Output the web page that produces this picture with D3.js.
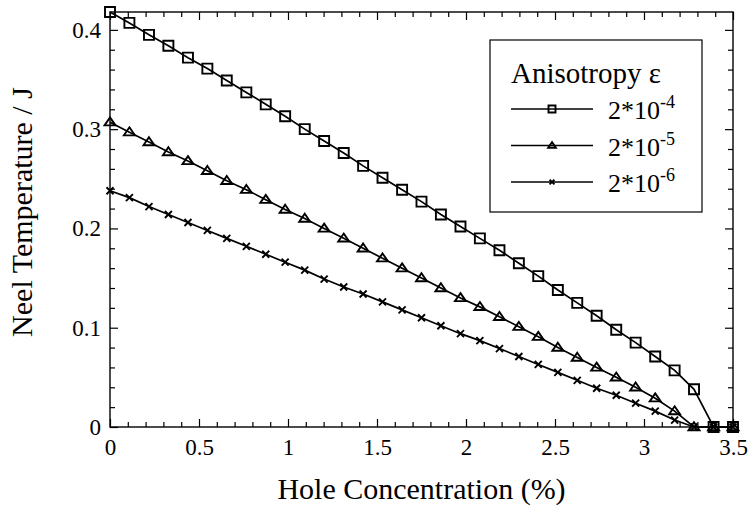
<!DOCTYPE html>
<html>
<head>
<meta charset="utf-8">
<script src="https://cdnjs.cloudflare.com/ajax/libs/d3/7.8.5/d3.min.js"></script>
<style>
body { margin: 0; background: #fff; }
svg { display: block; font-family: "Liberation Serif", "Times New Roman", serif; }
.axis text { font-family: "Liberation Serif", "Times New Roman", serif; font-size: 23px; fill: #000; }
.axis line { stroke: #000; stroke-width: 1.2; }
.frame { fill: none; stroke: #000; stroke-width: 1.4; }
.series { fill: none; stroke: #000; stroke-width: 1.7; }
.mark { fill: none; stroke: #000; stroke-width: 1.9; }
</style>
</head>
<body>
<svg id="chart" width="752" height="512"></svg>
<script>

// hole concentration (%) for every computed point
var holeConc = [0, 0.109, 0.219, 0.328, 0.438, 0.547, 0.656, 0.766, 0.875, 0.984,
    1.094, 1.203, 1.313, 1.422, 1.531, 1.641, 1.75, 1.859, 1.969, 2.078,
    2.188, 2.297, 2.406, 2.516, 2.625, 2.734, 2.844, 2.953, 3.063, 3.172,
    3.281, 3.391, 3.5];

// Neel temperature / J, one list per anisotropy value
var tnEps4 = [0.418, 0.407, 0.395, 0.384, 0.372, 0.361, 0.349, 0.337, 0.325, 0.313,
    0.300, 0.288, 0.276, 0.263, 0.251, 0.239, 0.227, 0.214, 0.202, 0.190,
    0.178, 0.165, 0.152, 0.138, 0.125, 0.112, 0.098, 0.085, 0.071, 0.057,
    0.038, 0, 0];
var tnEps5 = [0.307, 0.297, 0.287, 0.277, 0.268, 0.258, 0.248, 0.239, 0.229, 0.219,
    0.210, 0.200, 0.190, 0.180, 0.170, 0.160, 0.150, 0.140, 0.130, 0.121,
    0.111, 0.101, 0.091, 0.080, 0.070, 0.060, 0.050, 0.040, 0.029, 0.016,
    0, 0, 0];
var tnEps6 = [0.238, 0.231, 0.222, 0.214, 0.206, 0.198, 0.190, 0.182, 0.174, 0.166,
    0.158, 0.149, 0.141, 0.134, 0.126, 0.118, 0.110, 0.102, 0.094, 0.087,
    0.079, 0.071, 0.063, 0.055, 0.047, 0.039, 0.032, 0.024, 0.016, 0.007,
    0, 0, 0];

var seriesExp = ["-4", "-5", "-6"];
var seriesMark = ["square", "triangle", "cross"];

var xTicks = [0, 0.5, 1, 1.5, 2, 2.5, 3, 3.5];
var xTickLabels = ["0", "0.5", "1", "1.5", "2", "2.5", "3", "3.5"];
var yTicks = [0, 0.1, 0.2, 0.3, 0.4];
var yTickLabels = ["0", "0.1", "0.2", "0.3", "0.4"];

var xTitle = "Hole Concentration (%)";
var yTitle = "Neel Temperature / J";
var legendTitle = "Anisotropy \u03b5";

var plotL = 110, plotR = 733, plotT = 12, plotB = 427;

var svg = d3.select("#chart");

var x = d3.scaleLinear().domain([0, 3.5]).range([plotL, plotR]);
var y = d3.scaleLinear().domain([0, 0.418]).range([plotB, plotT]);

// minor ticks (no labels)
var xMinor = x.ticks(35).filter(function(v) { return Math.abs(v * 2 - Math.round(v * 2)) > 1e-6; });
var yMinor = y.ticks(20).filter(function(v) { return Math.abs(v * 10 - Math.round(v * 10)) > 1e-6; });

function addAxis(axis, tx, ty) {
    var g = svg.append("g").attr("class", "axis")
        .attr("transform", "translate(" + tx + "," + ty + ")")
        .call(axis);
    g.select(".domain").remove();
    return g;
}

addAxis(d3.axisBottom(x).tickValues(xMinor).tickSize(-5).tickFormat(""), 0, plotB);
addAxis(d3.axisTop(x).tickValues(xMinor).tickSize(-5).tickFormat(""), 0, plotT);
addAxis(d3.axisLeft(y).tickValues(yMinor).tickSize(-5).tickFormat(""), plotL, 0);
addAxis(d3.axisRight(y).tickValues(yMinor).tickSize(-5).tickFormat(""), plotR, 0);

addAxis(d3.axisBottom(x).tickValues(xTicks).tickSize(-8).tickPadding(12)
    .tickFormat(function(d, i) { return xTickLabels[i]; }), 0, plotB);
addAxis(d3.axisTop(x).tickValues(xTicks).tickSize(-8).tickFormat(""), 0, plotT);
addAxis(d3.axisLeft(y).tickValues(yTicks).tickSize(-8).tickPadding(9)
    .tickFormat(function(d, i) { return yTickLabels[i]; }), plotL, 0);
addAxis(d3.axisRight(y).tickValues(yTicks).tickSize(-8).tickFormat(""), plotR, 0);

svg.append("rect").attr("class", "frame")
    .attr("x", plotL).attr("y", plotT)
    .attr("width", plotR - plotL).attr("height", plotB - plotT);

// axis titles
svg.append("text")
    .attr("x", (plotL + plotR) / 2).attr("y", 499)
    .attr("text-anchor", "middle")
    .style("font-size", "30px")
    .text(xTitle);

svg.append("text")
    .attr("transform", "translate(32,212) rotate(-90)")
    .attr("text-anchor", "middle")
    .style("font-size", "30px")
    .text(yTitle);

// marker shapes, drawn around 0,0
function markPath(type, s) {
    if (type === "square") {
        return "M" + (-s) + "," + (-s) + "h" + (2 * s) + "v" + (2 * s) + "h" + (-2 * s) + "Z";
    }
    if (type === "triangle") {
        var h = s * 1.6;
        return "M0," + (-h * 0.6) + "L" + (s * 1.1) + "," + (h * 0.4) + "L" + (-s * 1.1) + "," + (h * 0.4) + "Z";
    }
    return "M" + (-s * 0.7) + "," + (-s * 0.7) + "L" + (s * 0.7) + "," + (s * 0.7) +
        "M" + (-s * 0.7) + "," + (s * 0.7) + "L" + (s * 0.7) + "," + (-s * 0.7);
}

var allSeries = [tnEps4, tnEps5, tnEps6];

var line = d3.line()
    .x(function(d, i) { return x(holeConc[i]); })
    .y(function(d) { return y(d); });

allSeries.forEach(function(vals, si) {
    svg.append("path").attr("class", "series").attr("d", line(vals));
    svg.selectAll("path.m" + si)
        .data(vals)
        .enter().append("path")
        .attr("class", "mark m" + si)
        .attr("transform", function(d, i) { return "translate(" + x(holeConc[i]) + "," + y(d) + ")"; })
        .attr("d", markPath(seriesMark[si], 5));
});

// legend
var lg = svg.append("g");
lg.append("rect")
    .attr("x", 490).attr("y", 40).attr("width", 212).attr("height", 172)
    .attr("fill", "#fff").attr("stroke", "#000").attr("stroke-width", 1.2);

lg.append("text").attr("x", 511).attr("y", 83)
    .style("font-size", "29px")
    .text(legendTitle);

seriesExp.forEach(function(ex, i) {
    var ry = 109 + i * 36.5;
    lg.append("line")
        .attr("x1", 511).attr("x2", 593).attr("y1", ry).attr("y2", ry)
        .attr("stroke", "#000").attr("stroke-width", 1.7);
    lg.append("path").attr("class", "mark")
        .attr("transform", "translate(552," + ry + ")")
        .attr("d", markPath(seriesMark[i], 3.5));
    var t = lg.append("text").attr("x", 608).attr("y", ry + 10)
        .style("font-size", "26px");
    t.append("tspan").text("2*10");
    t.append("tspan").attr("dy", -11).style("font-size", "18px").text(ex);
});

</script>
</body>
</html>
